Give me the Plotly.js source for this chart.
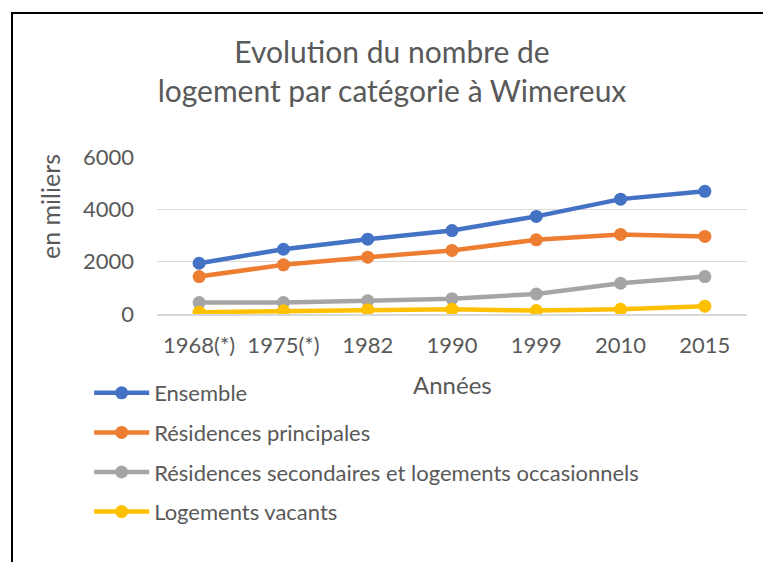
<!DOCTYPE html>
<html>
<head>
<meta charset="utf-8">
<script src="https://cdn.plot.ly/plotly-3.0.1.min.js"></script>
<style>
html,body{margin:0;padding:0;background:#fff;}
#wrap{position:relative;width:763px;height:562px;}
#chart{width:763px;height:562px;}
#frame{position:absolute;left:11px;top:12px;width:760px;height:560px;border-left:2px solid #000;border-top:2px solid #000;pointer-events:none;}
</style>
</head>
<body>
<div id="wrap"><div id="chart"></div><div id="frame"></div></div>
<script>
const years = ["1968(*)", "1975(*)", "1982", "1990", "1999", "2010", "2015"];
const ensemble = [1940, 2475, 2860, 3190, 3730, 4390, 4690];
const principales = [1430, 1880, 2170, 2430, 2835, 3040, 2965];
const secondaires = [435, 435, 510, 585, 765, 1175, 1430];
const vacants = [70, 120, 165, 180, 130, 180, 300];
const names = ["Ensemble", "Résidences principales", "Résidences secondaires et logements occasionnels", "Logements vacants"];
const colors = ["#4472C4", "#ED7D31", "#A5A5A5", "#FFC000"];
const series = [ensemble, principales, secondaires, vacants];

const font = "Lato, 'Open Sans', sans-serif";
const traces = series.map((s, i) => ({
  type: "scatter", mode: "lines+markers", x: years, y: s, name: names[i],
  legendgroup: "g" + i,
  line: {color: colors[i], width: 4.5},
  marker: {color: colors[i], size: 13}
}));

const layout = {
  width: 763, height: 562,
  margin: {l: 157, r: 16, t: 157, b: 248},
  paper_bgcolor: "#fff", plot_bgcolor: "#fff",
  font: {family: font, color: "#595959", size: 22},
  title: {text: "Evolution du nombre de<br>logement par catégorie à Wimereux",
    x: 392/763, xref: "container", xanchor: "center",
    y: 1 - 63/562, yref: "container", yanchor: "middle",
    font: {family: font, size: 30, color: "#595959"}},
  xaxis: {type: "category", range: [-0.5, 6.5], showgrid: false, zeroline: false,
    showline: true, linecolor: "#D9D9D9", linewidth: 1.5, ticks: "",
    tickfont: {size: 22, color: "#595959"}, ticklabelstandoff: 11},
  yaxis: {range: [0, 6000], dtick: 2000, showgrid: true, gridcolor: "#D9D9D9", gridwidth: 1.5,
    zeroline: false, showline: false, ticks: "",
    tickfont: {size: 22, color: "#595959"}, ticklabelstandoff: 22},
  annotations: [
    {text: "Années", xref: "paper", yref: "paper", x: 0.5, y: (314 - 384) / 157,
      xanchor: "center", yanchor: "middle", showarrow: false, font: {size: 24, color: "#595959"}},
    {text: "en miliers", xref: "paper", yref: "paper", x: (50 - 157) / 590, y: (314 - 207) / 157,
      xanchor: "center", yanchor: "middle", textangle: -90, showarrow: false, font: {size: 25, color: "#595959"}}
  ],
  showlegend: true,
  legend: {orientation: "v", x: -0.115, xanchor: "left", y: 1 - 372/562, yref: "container", yanchor: "top",
    traceorder: "grouped", tracegroupgap: 8, font: {size: 22, color: "#595959"}, itemwidth: 55,
    bgcolor: "rgba(0,0,0,0)"}
};
Plotly.newPlot("chart", traces, layout, {displayModeBar: false, staticPlot: true});
</script>
</body>
</html>
